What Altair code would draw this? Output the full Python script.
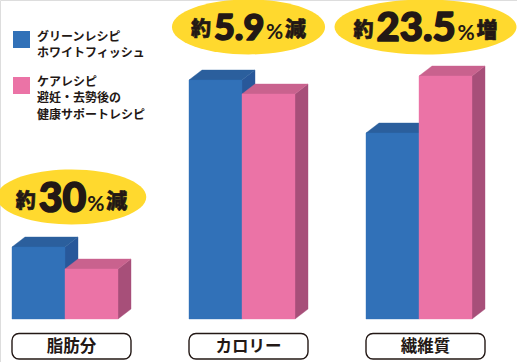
import altair as alt
import pandas as pd

# ---------------- data ----------------
categories = ["脂肪分", "カロリー", "繊維質"]
green_values = [72, 239, 186]   # グリーンレシピ ホワイトフィッシュ
care_values = [50, 225, 243]    # ケアレシピ 避妊・去勢後の健康サポートレシピ
green_label = ["グリーンレシピ", "ホワイトフィッシュ"]
care_label = ["ケアレシピ", "避妊・去勢後の", "健康サポートレシピ"]
change_prefix = "約"
change_numbers = ["30", "5.9", "23.5"]
change_unit = "%"
change_words = ["減", "減", "増"]

# ---------------- layout / style ----------------
W, H = 517, 362
BASE = 319                     # pixel row of the bar baseline
X0, STEP, BW, DX, DY = 12, 177, 53, 13, 10
BLUE = ("#3171b8", "#2b5f9d", "#28589a")   # front, top, side
PINK = ("#eb73a6", "#c9628e", "#a74f79")
YELLOW = "#ffd92e"
INK = "#231815"
JP = "Noto Sans CJK JP"
NUMFONT = "Lato"
NUM_SIZES = [41, 36, 40]

xs = alt.Scale(domain=[0, W], range=[0, W])
ys = alt.Scale(domain=[BASE - H, BASE], range=[H, 0])


def faces(values, s):
    front, top, side = [], [], []
    for i, v in enumerate(values):
        xl = X0 + STEP * i + s * BW
        xr = xl + BW
        front.append(dict(g=i, x=xl, x2=xr, y=0, y2=v))
        top += [dict(g=i, x=xl, y=v, y2=v),
                dict(g=i, x=xl + DX, y=v, y2=v + DY),
                dict(g=i, x=xr, y=v, y2=v + DY),
                dict(g=i, x=xr + DX, y=v + DY, y2=v + DY)]
        side += [dict(g=i, x=xr, y=0, y2=v),
                 dict(g=i, x=xr + DX, y=DY, y2=v + DY)]
    return pd.DataFrame(front), pd.DataFrame(top), pd.DataFrame(side)


def area_layer(df, color):
    return alt.Chart(df).mark_area(orient="vertical", color=color, stroke=color, strokeWidth=0.4).encode(
        x=alt.X("x:Q", scale=xs, axis=None),
        y=alt.Y("y:Q", scale=ys, axis=None, stack=None),
        y2="y2:Q",
        detail="g:N",
    )


def rect_layer(df, color):
    return alt.Chart(df).mark_rect(color=color, stroke=color, strokeWidth=0.4).encode(
        x=alt.X("x:Q", scale=xs, axis=None),
        x2="x2:Q",
        y=alt.Y("y:Q", scale=ys, axis=None),
        y2="y2:Q",
    )


layers = []
for s, (vals, cols) in enumerate([(green_values, BLUE), (care_values, PINK)]):
    fr, tp, sd = faces(vals, s)
    layers += [area_layer(sd, cols[2]), area_layer(tp, cols[1]), rect_layer(fr, cols[0])]

# ---------------- category boxes ----------------
box_df = pd.DataFrame({
    "x": [X0 + STEP * i for i in range(3)],
    "x2": [X0 + STEP * i + 2 * BW + DX for i in range(3)],
    "cx": [X0 + STEP * i + (2 * BW + DX) / 2 for i in range(3)],
    "label": categories,
})
boxes = alt.Chart(box_df).mark_rect(fill="white", stroke=INK, strokeWidth=1.4, cornerRadius=7).encode(
    x=alt.X("x:Q", scale=xs, axis=None), x2="x2:Q",
    y=alt.value(333.5), y2=alt.value(359),
)
box_text = alt.Chart(box_df).mark_text(font=JP, fontSize=16.5, fontWeight="bold", color=INK,
                                       baseline="middle").encode(
    x=alt.X("cx:Q", scale=xs, axis=None), y=alt.value(347), text="label:N")
layers += [boxes, box_text]

# ---------------- callouts ----------------
ell_rows, txt_rows = [], []
for i in range(3):
    cx = X0 + STEP * i + (2 * BW + DX) / 2
    top = max(green_values[i], care_values[i]) + DY
    cy = BASE - 27 if top > 200 else top + 40        # value units
    fs = NUM_SIZES[i]
    nw = sum((0.26 if c == "." else 0.58) * fs for c in change_numbers[i])
    total = 20 + 3 + nw + 1 + 16 + 3 + 21
    start = cx - total / 2
    ew = total + 38
    ratio = 55 / ew
    path = (f"M-1,0C-1,{-0.5523*ratio:.4f},-0.5523,{-ratio:.4f},0,{-ratio:.4f}"
            f"C0.5523,{-ratio:.4f},1,{-0.5523*ratio:.4f},1,0"
            f"C1,{0.5523*ratio:.4f},0.5523,{ratio:.4f},0,{ratio:.4f}"
            f"C-0.5523,{ratio:.4f},-1,{0.5523*ratio:.4f},-1,0Z")
    ell_rows.append(dict(x=cx, y=cy, size=ew * ew, path=path))
    base_num = cy - 0.717 * fs / 2          # digits baseline (value units)
    txt_rows += [
        dict(x=start, y=base_num + 4, t=change_prefix, fs=20, f=JP, w=900, sw=0.6),
        dict(x=start + 23, y=base_num, t=change_numbers[i], fs=fs, f=NUMFONT, w=900, sw=1.6),
        dict(x=start + 24 + nw, y=base_num + 1, t=change_unit, fs=21, f=NUMFONT, w=700, sw=0.0),
        dict(x=start + 43 + nw, y=base_num + 4, t=change_words[i], fs=21, f=JP, w=900, sw=0.6),
    ]
ell_df = pd.DataFrame(ell_rows)
ellipses = alt.Chart(ell_df).mark_point(filled=True, opacity=1, color=YELLOW, strokeWidth=0).encode(
    x=alt.X("x:Q", scale=xs, axis=None),
    y=alt.Y("y:Q", scale=ys, axis=None),
    size=alt.Size("size:Q", scale=None, legend=None),
    shape=alt.Shape("path:N", scale=None, legend=None),
)
layers.append(ellipses)
txt_df = pd.DataFrame(txt_rows)
for (f, fsz, w, sw), sub in txt_df.groupby(["f", "fs", "w", "sw"]):
    kw = dict(stroke=INK, strokeWidth=float(sw), strokeJoin="round") if sw > 0 else {}
    layers.append(alt.Chart(sub).mark_text(
        font=f, fontSize=int(fsz), fontWeight=int(w), color=INK, align="left", baseline="alphabetic", **kw
    ).encode(x=alt.X("x:Q", scale=xs, axis=None), y=alt.Y("y:Q", scale=ys, axis=None), text="t:N"))

# ---------------- legend ----------------
leg_df = pd.DataFrame({
    "y0": [31, 77], "y1": [48, 94], "ty": [31.5, 76.5],
    "c": [BLUE[0], PINK[0]],
    "t": ["\n".join(green_label), "\n".join(care_label)],
})
leg_sq = alt.Chart(leg_df).mark_rect().encode(
    x=alt.value(13), x2=alt.value(30), y=alt.Y("y0:Q", scale=None), y2="y1:Q",
    color=alt.Color("c:N", scale=None))
leg_tx = alt.Chart(leg_df).mark_text(font=JP, fontSize=12, fontWeight="bold", color=INK, align="left",
                                     baseline="top", lineBreak="\n", lineHeight=16.5).encode(
    x=alt.value(37), y=alt.Y("ty:Q", scale=None), text="t:N")
layers += [leg_sq, leg_tx]

chart = alt.layer(*layers).properties(
    width=W, height=H, padding=0, autosize=alt.AutoSizeParams(type="none")
).configure_view(stroke=None).configure(background="white")

chart.save("out.html", embed_options={"renderer": "svg", "actions": False})
